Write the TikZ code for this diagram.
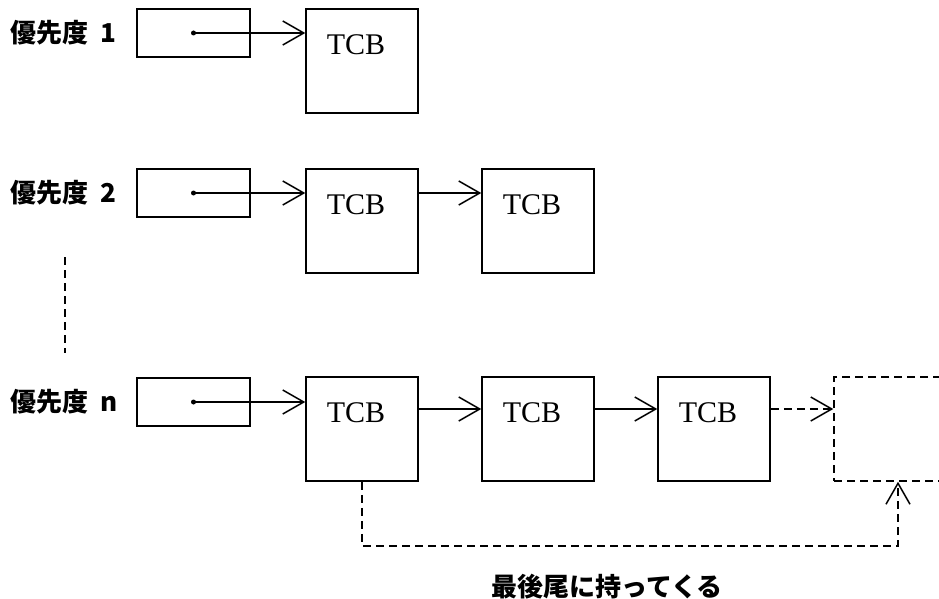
\documentclass[tikz,border=0pt]{standalone}
\usepackage{fontspec}
\newfontfamily\tcbfont{Liberation Serif}
\newfontfamily\jpfont{Noto Sans CJK JP}
\usetikzlibrary{arrows.meta,positioning}

\begin{document}
\begin{tikzpicture}[x=1pt, y=-1pt, line width=1.5pt,
    ptr/.style={draw, minimum width=113pt, minimum height=48pt, inner sep=0pt},
    tcb/.style={draw, minimum width=112pt, minimum height=104pt, inner sep=0pt,
        label={[anchor=center, xshift=-6pt, yshift=-36pt, font=\tcbfont\fontsize{30}{35}\selectfont]north:TCB}},
    tail/.style={draw, dash pattern=on 8pt off 5pt, minimum width=112pt, minimum height=104pt, inner sep=0pt},
    prio/.style={anchor=west, inner sep=0pt, font=\jpfont\bfseries\fontsize{26}{30}\selectfont},
    arrow/.style={-{Straight Barb[length=21pt,width=24pt]}},
    dasharrow/.style={arrow, dash pattern=on 8pt off 5pt}
]
\useasboundingbox (0,0) rectangle (939,599);
\clip (0,0) rectangle (939,599);

% Priority 1
\node[prio] (l1) at (10,33) {優先度\hspace{0.45em}1};
\node[ptr] (p1) at (193.5,33) {};
\node[tcb] (t11) at (362,61) {};

% Priority 2
\node[prio] (l2) at (10,193) {優先度\hspace{0.45em}2};
\node[ptr] (p2) at (193.5,193) {};
\node[tcb] (t21) at (362,221) {};
\node[tcb] (t22) at (538,221) {};

% Priority n
\node[prio] (ln) at (10,402) {優先度\hspace{0.45em}n};
\node[ptr] (pn) at (193.5,402) {};
\node[tcb] (tn1) at (362,429) {};
\node[tcb] (tn2) at (538,429) {};
\node[tcb] (tn3) at (714,429) {};
\node[tail] (tnx) at (890,429) {};

\node[prio, anchor=center] (note) at (607,587) {最後尾に持ってくる};

% Dots between rows
\draw[dash pattern=on 8pt off 5pt] (65,257) -- (65,353);

% Arrows
\fill (p1.center) circle (2.5pt);
\draw[arrow] (p1.center) -- (p1.center -| t11.west);
\fill (p2.center) circle (2.5pt);
\draw[arrow] (p2.center) -- (p2.center -| t21.west);
\draw[arrow] (p2.center -| t21.east) -- (p2.center -| t22.west);
\fill (pn.center) circle (2.5pt);
\draw[arrow] (pn.center) -- (pn.center -| tn1.west);
\draw[arrow] ([yshift=20pt]tn1.east) -- ([yshift=20pt]tn2.west);
\draw[arrow] ([yshift=20pt]tn2.east) -- ([yshift=20pt]tn3.west);
\draw[dasharrow] ([yshift=20pt]tn3.east) -- ([yshift=20pt]tnx.west);
\draw[dasharrow] (tn1.south) -- ++(0,64) -| ([xshift=8pt]tnx.south);

\end{tikzpicture}
\end{document}
